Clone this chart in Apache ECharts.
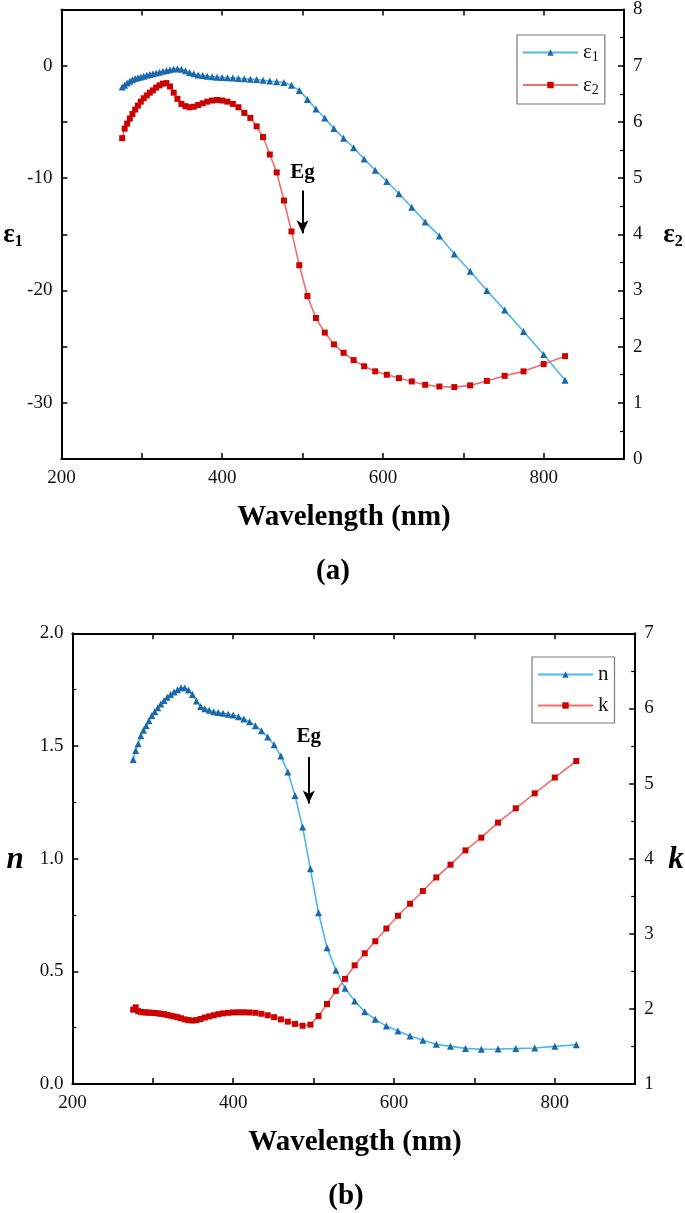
<!DOCTYPE html>
<html>
<head>
<meta charset="utf-8">
<script src="https://cdn.jsdelivr.net/npm/echarts@6/dist/echarts.min.js"></script>
<style>
html,body{margin:0;padding:0;background:#fff;}
#c{width:685px;height:1213px;}
</style>
</head>
<body>
<div id="c"></div>
<script>
const wavelength = [275.6,278.7,281.8,285.1,288.4,291.8,295.2,298.8,302.4,306.2,310.0,313.9,317.9,322.1,326.3,330.7,335.1,339.7,344.4,349.3,354.3,359.4,364.7,370.1,375.8,381.5,387.5,393.7,400.0,406.6,413.3,420.3,427.6,435.1,442.9,450.9,459.3,467.9,476.9,486.3,496.0,506.1,516.7,527.7,539.1,551.1,563.6,576.7,590.5,604.9,620.0,635.9,652.6,670.3,688.9,708.6,729.4,751.5,775.0,800.0,826.7];
const eps1 = [-1.9,-1.75,-1.55,-1.38,-1.25,-1.15,-1.07,-1.0,-0.93,-0.86,-0.79,-0.72,-0.65,-0.58,-0.5,-0.43,-0.36,-0.3,-0.27,-0.32,-0.45,-0.6,-0.72,-0.82,-0.88,-0.94,-0.98,-1.02,-1.05,-1.08,-1.1,-1.13,-1.17,-1.2,-1.24,-1.3,-1.36,-1.43,-1.5,-1.75,-2.2,-3.0,-3.85,-4.65,-5.6,-6.45,-7.3,-8.3,-9.3,-10.3,-11.4,-12.6,-13.9,-15.15,-16.75,-18.3,-20.0,-21.75,-23.65,-25.7,-28.0];
const eps2 = [5.71,5.88,5.97,6.06,6.14,6.22,6.29,6.36,6.42,6.47,6.52,6.56,6.61,6.65,6.68,6.69,6.63,6.52,6.41,6.32,6.28,6.26,6.27,6.30,6.33,6.36,6.38,6.39,6.38,6.36,6.32,6.26,6.16,6.07,5.92,5.73,5.42,5.10,4.60,4.05,3.45,2.90,2.51,2.25,2.04,1.89,1.76,1.65,1.56,1.50,1.44,1.38,1.32,1.29,1.28,1.31,1.39,1.48,1.56,1.69,1.83];
const nVals = [1.44,1.48,1.51,1.545,1.57,1.59,1.612,1.635,1.652,1.67,1.686,1.702,1.716,1.728,1.74,1.75,1.758,1.758,1.748,1.728,1.70,1.675,1.665,1.658,1.652,1.649,1.645,1.641,1.637,1.63,1.62,1.608,1.59,1.568,1.54,1.505,1.455,1.385,1.28,1.14,0.955,0.76,0.605,0.505,0.425,0.368,0.321,0.287,0.257,0.235,0.213,0.194,0.176,0.167,0.158,0.154,0.155,0.157,0.160,0.167,0.174];
const kVals = [1.99,2.02,1.97,1.96,1.955,1.952,1.95,1.948,1.945,1.94,1.935,1.93,1.92,1.91,1.90,1.89,1.875,1.86,1.85,1.845,1.85,1.865,1.885,1.90,1.915,1.93,1.94,1.948,1.953,1.955,1.955,1.952,1.948,1.935,1.915,1.89,1.86,1.83,1.80,1.775,1.79,1.905,2.065,2.24,2.40,2.58,2.74,2.90,3.07,3.24,3.40,3.57,3.75,3.92,4.11,4.28,4.48,4.67,4.87,5.08,5.30];
const xTickLabels = [200,400,600,800];
const epsLeftLabels = [-30,-20,-10,0];

const FONT = '"Liberation Serif","Times New Roman",serif';
const BLUE_LINE = '#4db8e8', BLUE_MARK = '#1b68ab';
const RED_LINE = '#ef6e6e', RED_MARK = '#cc0000';

function zip(ys){ return wavelength.map((w,i)=>[w, ys[i]]); }

function xAxisDef(grid, pos, labels){
  return {
    type:'value', gridIndex:grid, position:pos, min:200, max:900, interval:100,
    axisLine:{show:true, onZero:false, lineStyle:{color:'#000', width:2}},
    axisTick:{show:true, inside:true, length:6, lineStyle:{color:'#000', width:1.5}},
    axisLabel:{show:labels, margin:10, fontFamily:FONT, fontSize:19, color:'#111',
      formatter:v=> xTickLabels.includes(v) ? String(v) : ''},
    splitLine:{show:false}
  };
}
function yAxisDef(grid, pos, min, max, interval, fmt, minor){
  return {
    type:'value', gridIndex:grid, position:pos, min:min, max:max, interval:interval,
    axisLine:{show:true, onZero:false, lineStyle:{color:'#000', width:2}},
    axisTick:{show:true, inside:true, length:6, lineStyle:{color:'#000', width:1.5}},
    minorTick:{show:minor, splitNumber:2, length:4, lineStyle:{color:'#000', width:1.2}},
    axisLabel:{margin:9, fontFamily:FONT, fontSize:19, color:'#111', formatter:fmt},
    splitLine:{show:false}, minorSplitLine:{show:false}
  };
}
function lineSeries(name, xi, yi, ys, lineColor, markColor, symbol, size, extra){
  return Object.assign({
    name:name, type:'line', xAxisIndex:xi, yAxisIndex:yi, data:zip(ys),
    symbol:symbol, symbolSize:size, showSymbol:true, smooth:false,
    lineStyle:{color:lineColor, width:1.6},
    itemStyle:{color:markColor, borderWidth:0},
    emphasis:{disabled:true}, animation:false, z:3
  }, extra||{});
}
function egMarks(x, yText, y0, y1){
  return {
    markLine:{silent:true, symbol:['none','arrow'], symbolSize:[9,13], animation:false,
      lineStyle:{color:'#000', width:2, type:'solid'}, label:{show:false},
      data:[[{coord:[x,y0]},{coord:[x,y1]}]]},
    markPoint:{silent:true, animation:false,
      data:[{coord:[x,yText], symbol:'rect', symbolSize:1, itemStyle:{color:'rgba(0,0,0,0)'},
        label:{show:true, position:'inside', formatter:'Eg', color:'#000', fontSize:21,
          fontWeight:'bold', fontFamily:FONT}}]}
  };
}
const legendRich = {
  b:{fontFamily:FONT, fontSize:21, color:'#111'},
  s:{fontFamily:FONT, fontSize:14, color:'#111', padding:[10,0,0,0]}
};
function legendDef(names, left, top){
  return {
    data:names, orient:'vertical', left:left, top:top,
    backgroundColor:'#fff', borderColor:'#7a7a7a', borderWidth:1.2,
    padding:[7,6,7,5], itemWidth:55, itemHeight:8, itemGap:10,
    selectedMode:false,
    formatter:n=> n.length>1 ? '{b|'+n[0]+'}{s|'+n.slice(1)+'}' : '{b|'+n+'}',
    textStyle:{fontFamily:FONT, fontSize:21, color:'#111', rich:legendRich}
  };
}
function title(x, y, text, size, style, rich){
  return {type:'text', x:x, y:y, silent:true, style:{text:text, fontFamily:FONT, fontSize:size,
    fontWeight:'bold', fontStyle:style||'normal', fill:'#000', align:'center', verticalAlign:'middle', rich:rich}};
}
const subRich = {
  e:{fontFamily:FONT, fontSize:27, fontWeight:'bold', fill:'#000'},
  s:{fontFamily:FONT, fontSize:16, fontWeight:'bold', fill:'#000', padding:[14,0,0,0]}
};

const chart = echarts.init(document.getElementById('c'), null, {renderer:'canvas'});
chart.setOption({
  backgroundColor:'#fff',
  animation:false,
  grid:[
    {left:61.4, top:9, width:562.6, height:450},
    {left:72.4, top:633.3, width:562.8, height:450.7}
  ],
  xAxis:[
    xAxisDef(0,'bottom',true), xAxisDef(0,'top',false),
    xAxisDef(1,'bottom',true), xAxisDef(1,'top',false)
  ],
  yAxis:[
    yAxisDef(0,'left',-35,5,5, v=> epsLeftLabels.includes(v) ? String(v) : '', false),
    yAxisDef(0,'right',0,8,1, v=> String(v), true),
    yAxisDef(1,'left',0,2,0.5, v=> v.toFixed(1), true),
    yAxisDef(1,'right',1,7,1, v=> String(v), true)
  ],
  legend:[
    legendDef(['ε1','ε2'], 517, 35),
    legendDef(['n','k'], 532, 657)
  ],
  series:[
    lineSeries('ε1',0,0,eps1,BLUE_LINE,BLUE_MARK,'triangle',7, egMarks(500,-9.5,-11.1,-14.9)),
    lineSeries('ε2',0,1,eps2,RED_LINE,RED_MARK,'rect',6),
    lineSeries('n',2,2,nVals,BLUE_LINE,BLUE_MARK,'triangle',7, egMarks(494,1.54,1.451,1.245)),
    lineSeries('k',2,3,kVals,RED_LINE,RED_MARK,'rect',6)
  ],
  graphic:[
    title(13,235,'{e|ε}{s|1}',27,'normal',subRich),
    title(673,235,'{e|ε}{s|2}',27,'normal',subRich),
    title(344,518,'Wavelength (nm)',29),
    title(333,572,'(a)',29),
    title(15,860,'n',31,'italic'),
    title(676,860,'k',31,'italic'),
    title(355,1143,'Wavelength (nm)',29),
    title(346,1197,'(b)',29)
  ]
});
</script>
</body>
</html>
